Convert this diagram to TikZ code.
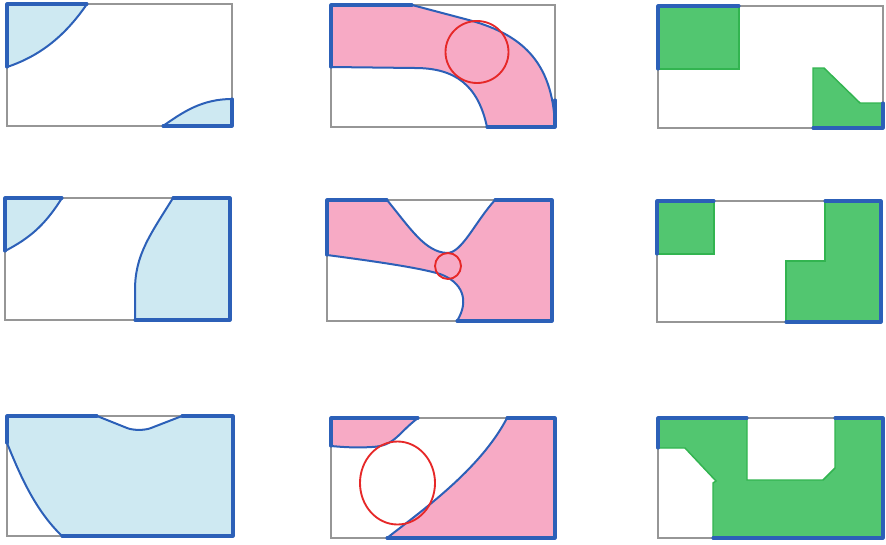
\documentclass[tikz,border=0pt]{standalone}
\definecolor{lblue}{RGB}{206,233,242}
\definecolor{eblue}{RGB}{44,96,184}
\definecolor{pinkf}{RGB}{247,170,197}
\definecolor{redc}{RGB}{230,40,40}
\definecolor{greenf}{RGB}{82,198,112}
\definecolor{greene}{RGB}{50,180,80}
\definecolor{frameg}{RGB}{150,150,150}
\tikzset{
  frame/.style={draw=frameg, line width=1.1pt},
  edge/.style={draw=eblue, line width=2.3pt, line cap=round, line join=round},
  bcurve/.style={draw=eblue, line width=1.5pt, line cap=round, line join=round},
  fblue/.style={fill=lblue},
  fpink/.style={fill=pinkf},
  fgreen/.style={fill=greenf, draw=greene, line width=1.1pt, line join=miter},
  rcirc/.style={draw=redc, line width=1.4pt},
}
\begin{document}
\begin{tikzpicture}[x=0.75pt, y=-0.75pt]
\useasboundingbox (0,0) rectangle (886,544);
% ---------- Panel 1 ----------
\path[fblue] (7,4) -- (87,4) .. controls (65,36) and (40,56) .. (7,67) -- cycle;
\path[fblue] (232,126) -- (163,126) .. controls (183,112) and (202,99) .. (232,99) -- cycle;
\draw[frame] (7,4) rectangle (232,126);
\draw[bcurve] (87,4) .. controls (65,36) and (40,56) .. (7,67);
\draw[bcurve] (163,126) .. controls (183,112) and (202,99) .. (232,99);
\draw[edge] (7,67) -- (7,4) -- (87,4);
\draw[edge] (232,99) -- (232,126) -- (163,126);
% ---------- Panel 2 ----------
\draw[frame] (331,5) rectangle (555,127);
\path[fpink] (331,5) -- (412,5) -- (465,19) .. controls (520,33) and (553,60) .. (555,127)
  -- (487,127) .. controls (478,85) and (455,68) .. (415,68) -- (331,67) -- cycle;
\draw[bcurve] (412,5) -- (465,19) .. controls (520,33) and (553,60) .. (555,127);
\draw[bcurve] (487,127) .. controls (478,85) and (455,68) .. (415,68) -- (331,67);
\draw[edge] (331,67) -- (331,5) -- (412,5);
\draw[edge] (555,100) -- (555,127) -- (487,127);
\draw[rcirc] (477,52) ellipse [x radius=31.5, y radius=31];
% ---------- Panel 3 ----------
\draw[frame] (658,6) rectangle (883,128);
\path[fgreen] (658,6) rectangle (739,69);
\path[fgreen] (813,68) -- (824,68) -- (860,103) -- (883,103) -- (883,128) -- (813,128) -- cycle;
\draw[edge] (658,69) -- (658,6) -- (739,6);
\draw[edge] (883,103) -- (883,128) -- (813,128);
% ---------- Panel 4 ----------
\path[fblue] (5,198) -- (62,198) .. controls (45,225) and (30,238) .. (5,251) -- cycle;
\path[fblue] (230,198) -- (230,320) -- (135,320) -- (135,290) .. controls (135,255) and (150,235) .. (173,198) -- cycle;
\draw[frame] (5,198) rectangle (230,320);
\draw[bcurve] (62,198) .. controls (45,225) and (30,238) .. (5,251);
\draw[bcurve] (135,320) -- (135,290) .. controls (135,255) and (150,235) .. (173,198);
\draw[edge] (5,251) -- (5,198) -- (62,198);
\draw[edge] (173,198) -- (230,198) -- (230,320) -- (135,320);
% ---------- Panel 5 ----------
\draw[frame] (327,200) rectangle (552,321);
\path[fpink] (327,200) -- (387,200) .. controls (410,228) and (425,252) .. (447,253)
  .. controls (462,253) and (475,222) .. (495,200)
  -- (552,200) -- (552,321) -- (457,321)
  .. controls (470,300) and (462,282) .. (440,274)
  .. controls (420,268) and (380,262) .. (327,255) -- cycle;
\draw[bcurve] (387,200) .. controls (410,228) and (425,252) .. (447,253)
  .. controls (462,253) and (475,222) .. (495,200);
\draw[bcurve] (457,321) .. controls (470,300) and (462,282) .. (440,274)
  .. controls (420,268) and (380,262) .. (327,255);
\draw[edge] (327,255) -- (327,200) -- (387,200);
\draw[edge] (495,200) -- (552,200) -- (552,321) -- (457,321);
\draw[rcirc] (448,266) circle [radius=13];
% ---------- Panel 6 ----------
\draw[frame] (657,201) rectangle (881,322);
\path[fgreen] (657,201) rectangle (714,254);
\path[fgreen] (825,201) -- (881,201) -- (881,322) -- (786,322) -- (786,261) -- (825,261) -- cycle;
\draw[edge] (657,254) -- (657,201) -- (714,201);
\draw[edge] (825,201) -- (881,201) -- (881,322) -- (786,322);
% ---------- Panel 7 ----------
\draw[frame] (7,416) rectangle (233,536);
\path[fblue] (7,416) -- (97,416) -- (127,428) .. controls (133,430.5) and (145,430.5) .. (151,428) -- (182,416) -- (233,416) -- (233,536)
  -- (62,536) .. controls (35,510) and (20,475) .. (7,443) -- cycle;
\draw[bcurve] (97,416) -- (127,428) .. controls (133,430.5) and (145,430.5) .. (151,428) -- (182,416);
\draw[bcurve] (62,536) .. controls (35,510) and (20,475) .. (7,443);
\draw[edge] (7,443) -- (7,416) -- (97,416);
\draw[edge] (182,416) -- (233,416) -- (233,536) -- (62,536);
% ---------- Panel 8 ----------
\draw[frame] (331,418) rectangle (555,538);
\path[fpink] (331,418) -- (418,418) .. controls (398,433) and (395,446) .. (372,447)
  .. controls (355,448) and (342,447) .. (331,446) -- cycle;
\path[fpink] (555,418) -- (555,538) -- (387,538) .. controls (420,512) and (480,470) .. (507,418) -- cycle;
\draw[bcurve] (418,418) .. controls (398,433) and (395,446) .. (372,447)
  .. controls (355,448) and (342,447) .. (331,446);
\draw[bcurve] (387,538) .. controls (420,512) and (480,470) .. (507,418);
\draw[edge] (331,446) -- (331,418) -- (418,418);
\draw[edge] (507,418) -- (555,418) -- (555,538) -- (387,538);
\draw[rcirc] (397.5,483) ellipse [x radius=37.5, y radius=41.5];
% ---------- Panel 9 ----------
\draw[frame] (658,418) rectangle (883,538);
\path[fgreen] (658,418) -- (747,418) -- (747,480) -- (823,480) -- (835,468) -- (835,418) -- (883,418)
  -- (883,538) -- (713,538) -- (713,483) -- (716,481) -- (685,448) -- (658,448) -- cycle;
\draw[edge] (658,448) -- (658,418) -- (747,418);
\draw[edge] (835,418) -- (883,418) -- (883,538) -- (713,538);
\end{tikzpicture}
\end{document}
